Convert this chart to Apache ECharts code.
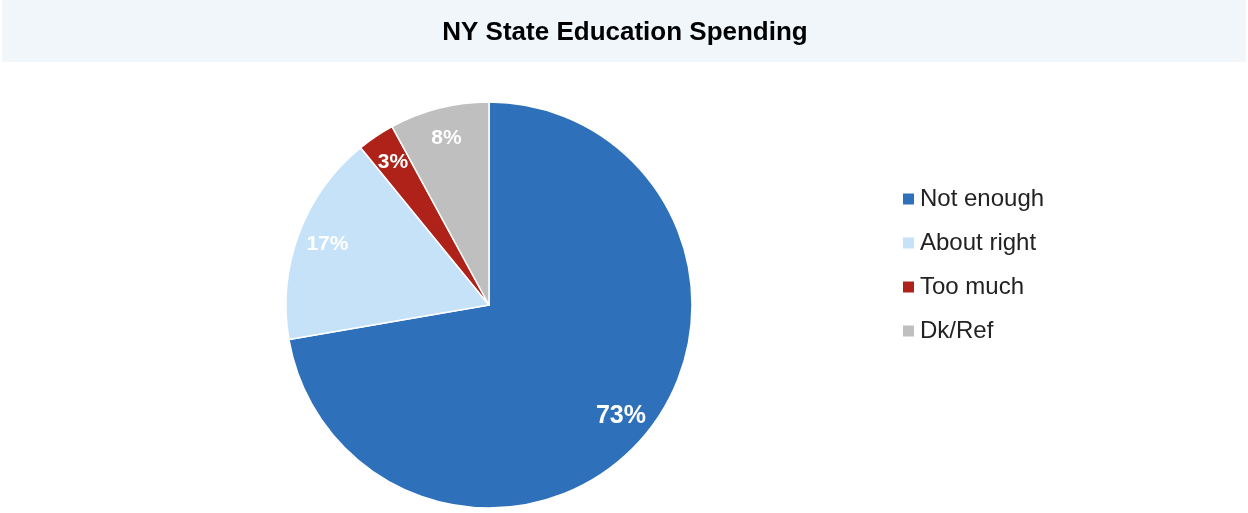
<!DOCTYPE html>
<html>
<head>
<meta charset="utf-8">
<script src="https://cdn.jsdelivr.net/npm/echarts@6/dist/echarts.min.js"></script>
<style>
  html, body { margin: 0; padding: 0; background: #ffffff; }
  #chart { width: 1248px; height: 513px; }
</style>
</head>
<body>
<div id="chart"></div>
<script>
// Survey responses on NY State education spending (percent)
const categories = ['Not enough', 'About right', 'Too much', 'Dk/Ref'];
const values = [73, 17, 3, 8];
const colors = ['#2E71BA', '#C6E2F8', '#AF2219', '#BFBFBF'];
const labelSizes = [25, 21, 21, 21];

const chart = echarts.init(document.getElementById('chart'), null, { renderer: 'canvas' });

const pieData = categories.map((name, i) => ({
  name: name,
  value: values[i],
  itemStyle: { color: colors[i] }
}));

const labelData = categories.map((name, i) => ({
  name: name,
  value: values[i],
  label: { fontSize: labelSizes[i] }
}));

const center = [489, 305];

chart.setOption({
  animation: false,
  graphic: [{
    type: 'rect',
    shape: { x: 2, y: 0, width: 1244, height: 62 },
    style: { fill: '#F1F6FB' },
    z: -1
  }],
  title: {
    text: 'NY State Education Spending',
    left: 625,
    top: 17,
    textAlign: 'center',
    padding: 0,
    textStyle: {
      fontFamily: 'Liberation Sans, Arial, sans-serif',
      fontSize: 26,
      fontWeight: 'bold',
      color: '#000000',
      lineHeight: 32
    }
  },
  legend: {
    orient: 'vertical',
    left: 901,
    top: 187,
    padding: 0,
    itemWidth: 13,
    itemHeight: 13,
    itemGap: 20,
    icon: 'rect',
    data: categories,
    textStyle: {
      fontFamily: 'Liberation Sans, Arial, sans-serif',
      fontSize: 24,
      color: '#222222',
      lineHeight: 24,
      padding: [0, 0, 0, 0]
    }
  },
  series: [
    {
      // filled slices
      type: 'pie',
      center: center,
      radius: [0, 203],
      startAngle: 90,
      clockwise: true,
      silent: true,
      label: { show: false },
      labelLine: { show: false },
      itemStyle: { borderColor: '#ffffff', borderWidth: 1.5 },
      data: pieData
    },
    {
      // transparent ring carrying the percentage labels near the rim
      type: 'pie',
      center: center,
      radius: [136, 203],
      startAngle: 90,
      clockwise: true,
      silent: true,
      legendHoverLink: false,
      itemStyle: { color: 'rgba(0,0,0,0)' },
      label: {
        show: true,
        position: 'inside',
        formatter: p => p.value + '%',
        color: '#ffffff',
        fontWeight: 'bold',
        fontFamily: 'Liberation Sans, Arial, sans-serif'
      },
      labelLine: { show: false },
      data: labelData
    }
  ]
});
</script>
</body>
</html>
